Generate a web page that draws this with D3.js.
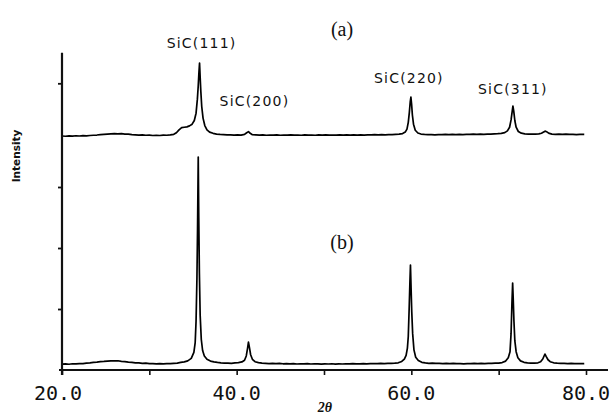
<!DOCTYPE html>
<html>
<head>
<meta charset="utf-8">
<script src="https://cdn.jsdelivr.net/npm/d3@7/dist/d3.min.js"></script>
<style>
  html, body { margin: 0; padding: 0; background: #fff; }
  svg { display: block; }
</style>
</head>
<body>
<svg id="chart" width="610" height="417"></svg>
<script>
// XRD patterns, 2θ (degrees) vs intensity (arbitrary units)
const patternA = [
  [20.0,96],[20.4,92],[20.8,98],[21.2,94],[21.6,100],[22.0,96],[22.4,102],[22.8,98],[23.2,104],[23.6,108],
  [24.0,112],[24.4,118],[24.8,122],[25.2,126],[25.6,130],[26.0,134],[26.4,130],[26.8,134],[27.2,126],[27.6,128],
  [28.0,120],[28.4,116],[28.8,112],[29.2,114],[29.6,108],[30.0,110],[30.4,104],[30.8,108],[31.2,104],[31.6,110],
  [32.0,108],[32.4,114],[32.8,124],[33.1,150],[33.4,196],[33.7,232],[34.0,240],[34.3,246],[34.6,262],[34.9,290],
  [35.15,350],[35.35,470],[35.5,700],[35.6,920],[35.68,1140],[35.75,1293],[35.82,1060],[35.9,820],[36.0,580],
  [36.15,390],[36.35,268],[36.6,196],[36.9,160],[37.3,140],[37.7,128],[38.1,122],[38.5,118],[38.9,114],[39.3,116],
  [39.7,112],[40.1,114],[40.5,110],[40.9,122],[41.15,150],[41.35,168],[41.55,140],[41.8,118],[42.2,114],[42.6,110],
  [43.0,114],[43.4,108],[43.8,112],[44.2,110],[44.6,114],[45.0,108],[45.4,112],[45.8,110],[46.2,114],[46.6,110],
  [47.0,112],[47.4,108],[47.8,114],[48.2,110],[48.6,112],[49.0,108],[49.4,114],[49.8,110],[50.2,114],[50.6,110],
  [51.0,112],[51.4,110],[51.8,116],[52.2,112],[52.6,114],[53.0,110],[53.4,116],[53.8,112],[54.2,114],[54.6,112],
  [55.0,116],[55.4,114],[55.8,118],[56.2,114],[56.6,118],[57.0,116],[57.4,120],[57.8,118],[58.2,122],[58.6,126],
  [59.0,136],[59.3,160],[59.5,210],[59.65,320],[59.77,480],[59.87,650],[59.95,735],[60.03,620],[60.12,440],
  [60.25,290],[60.45,190],[60.75,145],[61.1,128],[61.5,122],[61.9,118],[62.3,120],[62.7,116],[63.1,120],[63.5,118],
  [63.9,122],[64.3,118],[64.7,122],[65.1,120],[65.5,124],[65.9,120],[66.3,124],[66.7,122],[67.1,126],[67.5,122],
  [67.9,126],[68.3,124],[68.7,128],[69.1,126],[69.5,130],[69.9,134],[70.3,140],[70.7,152],[71.0,180],[71.25,240],
  [71.42,360],[71.53,480],[71.63,588],[71.73,500],[71.85,350],[72.0,240],[72.25,170],[72.6,142],[73.0,132],
  [73.4,128],[73.8,126],[74.2,128],[74.6,130],[74.9,142],[75.15,162],[75.35,176],[75.55,160],[75.8,138],[76.1,128],
  [76.5,124],[76.9,126],[77.3,122],[77.7,126],[78.1,122],[78.5,124],[78.9,120],[79.3,124],[79.8,122]
];

const patternB = [
  [20.0,96],[20.4,100],[20.8,94],[21.2,102],[21.6,99],[22.0,106],[22.4,104],[22.8,112],[23.2,116],[23.6,124],
  [24.0,128],[24.4,136],[24.8,140],[25.2,146],[25.6,150],[26.0,148],[26.4,152],[26.8,142],[27.2,138],[27.6,130],
  [28.0,126],[28.4,118],[28.8,116],[29.2,110],[29.6,112],[30.0,104],[30.4,106],[30.8,100],[31.2,104],[31.6,102],
  [32.0,106],[32.4,104],[32.8,110],[33.2,114],[33.6,126],[34.0,134],[34.4,150],[34.8,190],[35.1,290],[35.25,450],
  [35.35,800],[35.45,1500],[35.52,2300],[35.6,3490],[35.66,2500],[35.73,1600],[35.82,900],[35.95,500],[36.1,320],
  [36.3,230],[36.6,176],[37.0,146],[37.4,132],[37.8,124],[38.2,118],[38.6,114],[39.0,112],[39.4,110],[39.8,116],
  [40.2,120],[40.6,132],[40.9,160],[41.1,230],[41.25,360],[41.35,458],[41.45,380],[41.6,250],[41.8,176],[42.1,136],
  [42.5,120],[42.9,114],[43.3,110],[43.7,106],[44.1,108],[44.5,104],[44.9,108],[45.3,102],[45.7,106],[46.1,100],
  [46.5,104],[46.9,98],[47.3,102],[47.7,100],[48.1,104],[48.5,98],[48.9,102],[49.3,100],[49.7,96],[50.1,100],
  [50.5,98],[50.9,102],[51.3,96],[51.7,100],[52.1,98],[52.5,102],[52.9,100],[53.3,104],[53.7,100],[54.1,102],
  [54.5,106],[54.9,102],[55.3,104],[55.7,106],[56.1,104],[56.5,108],[56.9,106],[57.3,110],[57.7,108],[58.1,112],
  [58.5,118],[58.9,140],[59.2,180],[59.4,240],[59.55,360],[59.65,550],[59.75,1000],[59.83,1400],[59.9,1720],
  [59.97,1350],[60.05,950],[60.15,600],[60.3,330],[60.5,210],[60.8,155],[61.2,126],[61.6,116],[62.0,110],[62.4,112],
  [62.8,108],[63.2,110],[63.6,106],[64.0,108],[64.4,104],[64.8,108],[65.2,104],[65.6,106],[66.0,102],[66.4,106],
  [66.8,104],[67.2,108],[67.6,104],[68.0,108],[68.4,106],[68.8,110],[69.2,108],[69.6,112],[70.0,114],[70.4,122],
  [70.8,146],[71.1,200],[71.3,300],[71.42,600],[71.52,1100],[71.6,1426],[71.67,1150],[71.75,800],[71.85,480],
  [72.0,300],[72.2,200],[72.5,150],[72.9,126],[73.3,118],[73.7,114],[74.1,112],[74.5,118],[74.8,134],[75.05,180],
  [75.2,230],[75.3,262],[75.45,220],[75.65,168],[75.9,136],[76.3,118],[76.7,112],[77.1,108],[77.5,110],[77.9,106],
  [78.3,108],[78.7,104],[79.1,106],[79.5,104],[79.8,106]
];

// vertical offset that stacks pattern (a) above pattern (b)
const offsetA = 3740;

const xTicks = [20, 30, 40, 50, 60, 70, 80];
const xTickLabels = ["20.0", "40.0", "60.0", "80.0"];
const xLabelValues = [20, 40, 60, 80];
const yTicks = [1000, 2000, 3000, 4700];

const peakNames = ["SiC(111)", "SiC(200)", "SiC(220)", "SiC(311)"];
const peakAngles = [35.75, 41.35, 59.95, 71.63];
const panelNames = ["(a)", "(b)"];

const svg = d3.select("#chart");

const x = d3.scaleLinear().domain([20, 80]).range([62, 586]);
const y = d3.scaleLinear().domain([0, 5200]).range([370, 52.8]);

const line = d3.line()
  .x(d => x(d[0]))
  .y(d => y(d[1]));

// spectra
svg.append("path")
  .datum(patternB)
  .attr("d", line)
  .attr("fill", "none")
  .attr("stroke", "#000")
  .attr("stroke-width", 1.7)
  .attr("stroke-linejoin", "round");

svg.append("path")
  .datum(patternA.map(d => [d[0], d[1] + offsetA]))
  .attr("d", line)
  .attr("fill", "none")
  .attr("stroke", "#000")
  .attr("stroke-width", 1.7)
  .attr("stroke-linejoin", "round");

// x axis
const xAxis = svg.append("g")
  .attr("transform", `translate(0,${y(0)})`)
  .call(d3.axisBottom(x).tickValues(xTicks).tickSize(5).tickFormat(""));
xAxis.select(".domain").remove();
xAxis.selectAll(".tick line").attr("stroke", "#111").attr("stroke-width", 1.6);

svg.append("line")
  .attr("x1", 59).attr("x2", 608)
  .attr("y1", y(0)).attr("y2", y(0))
  .attr("stroke", "#111").attr("stroke-width", 2.2);

svg.selectAll("text.xlab")
  .data(xLabelValues)
  .join("text")
  .attr("class", "xlab")
  .attr("x", (d, i) => x(d) + (i === 0 ? -4 : 0))
  .attr("y", 400)
  .attr("text-anchor", "middle")
  .attr("font-family", "'DejaVu Sans Mono', monospace")
  .attr("font-size", 20)
  .attr("fill", "#111")
  .text((d, i) => xTickLabels[i]);

// y axis
const yAxis = svg.append("g")
  .attr("transform", `translate(${x(20)},0)`)
  .call(d3.axisLeft(y).tickValues(yTicks).tickSize(4).tickFormat(""));
yAxis.select(".domain").remove();
yAxis.selectAll(".tick line").attr("stroke", "#111").attr("stroke-width", 1.8);

svg.append("line")
  .attr("x1", x(20)).attr("x2", x(20))
  .attr("y1", y(5200)).attr("y2", y(0) + 5)
  .attr("stroke", "#111").attr("stroke-width", 2.2);

// axis titles
svg.append("text")
  .attr("transform", "translate(20,156) rotate(-90)")
  .attr("text-anchor", "middle")
  .attr("font-family", "'DejaVu Sans', sans-serif")
  .attr("font-weight", "bold")
  .attr("font-size", 10.5)
  .attr("fill", "#111")
  .text("Intensity");

svg.append("text")
  .attr("x", x(50) + 1)
  .attr("y", 412)
  .attr("text-anchor", "middle")
  .attr("font-family", "'Liberation Serif', serif")
  .attr("font-weight", "bold")
  .attr("font-style", "italic")
  .attr("font-size", 14)
  .attr("fill", "#111")
  .text("2θ");

// peak labels over pattern (a)
const peakLabelLayout = [
  { dx: 2, y: 48 },
  { dx: 6, y: 106 },
  { dx: -2, y: 83 },
  { dx: 0, y: 94 }
];
svg.selectAll("text.peak")
  .data(peakNames)
  .join("text")
  .attr("class", "peak")
  .attr("x", (d, i) => x(peakAngles[i]) + peakLabelLayout[i].dx)
  .attr("y", (d, i) => peakLabelLayout[i].y)
  .attr("text-anchor", "middle")
  .attr("font-family", "'DejaVu Sans', sans-serif")
  .attr("font-size", 14)
  .attr("letter-spacing", 1.2)
  .attr("fill", "#111")
  .text(d => d);

// panel tags
svg.selectAll("text.panel")
  .data(panelNames)
  .join("text")
  .attr("class", "panel")
  .attr("x", 342)
  .attr("y", (d, i) => (i === 0 ? 36 : 249))
  .attr("text-anchor", "middle")
  .attr("font-family", "'Liberation Serif', serif")
  .attr("font-size", 20)
  .attr("fill", "#111")
  .text(d => d);
</script>
</body>
</html>
